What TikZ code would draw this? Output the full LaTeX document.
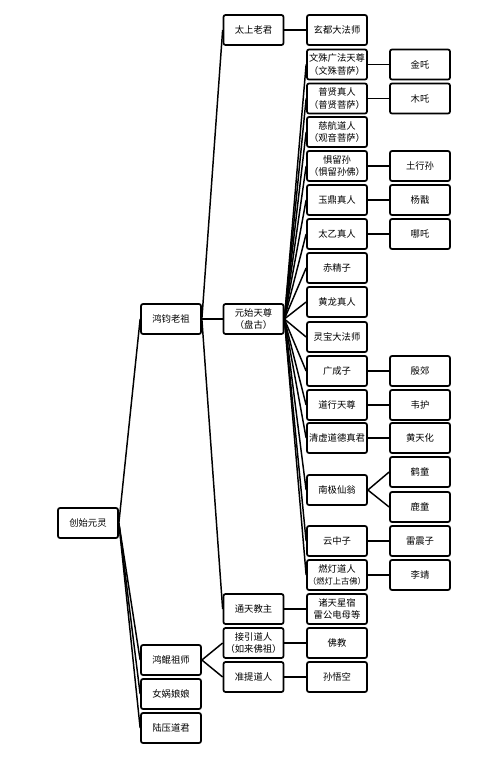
\documentclass[tikz,border=0pt]{standalone}
\usepackage{fontspec}
\usepackage{tikz}
\newfontfamily\cjk{Noto Sans CJK SC}

\begin{document}
\begin{tikzpicture}[x=0.75pt,y=0.75pt,yscale=-1,xscale=1,
	box/.style={draw,line width=1.3pt,rounded corners=1.5pt,fill=white,
		minimum width=45pt,minimum height=22.5pt,inner sep=0pt,align=center,
		font=\cjk\fontsize{7}{9.5}\selectfont},
	link/.style={line width=1.1pt}]
	%set diagram size 500 x 769
	\useasboundingbox (0,0) rectangle (500,769);
	
	% Level 1
	\node [box] (chuangshi) at (88,523) {创始元灵};
	
	% Level 2
	\node [box] (hongjun) at (171,319) {鸿钧老祖};
	\node [box] (hongkun) at (171,660) {鸿鲲祖师};
	\node [box] (nuwa) at (171,694) {女娲娘娘};
	\node [box] (luya) at (171,728) {陆压道君};
	
	% Level 3
	\node [box] (taishang) at (253.5,30) {太上老君};
	\node [box] (yuanshi) at (253.5,319) {元始天尊\\（盘古）};
	\node [box] (tongtian) at (253.5,609) {通天教主};
	\node [box] (jieyin) at (253.5,643) {接引道人\\（如来佛祖）};
	\node [box] (zhunti) at (253.5,677) {准提道人};
	
	% Level 4
	\node [box] (xuandu) at (337,30) {玄都大法师};
	\node [box] (wenshu) at (337,64.5) {文殊广法天尊\\（文殊菩萨）};
	\node [box] (puxian) at (337,98.5) {普贤真人\\（普贤菩萨）};
	\node [box] (cihang) at (337,132) {慈航道人\\（观音菩萨）};
	\node [box] (julusun) at (337,166) {惧留孙\\（惧留孙佛）};
	\node [box] (yuding) at (337,200) {玉鼎真人};
	\node [box] (taiyi) at (337,234) {太乙真人};
	\node [box] (chijing) at (337,268) {赤精子};
	\node [box] (huanglong) at (337,302) {黄龙真人};
	\node [box] (lingbao) at (337,337) {灵宝大法师};
	\node [box] (guangcheng) at (337,371) {广成子};
	\node [box] (daoxing) at (337,405) {道行天尊};
	\node [box] (qingxu) at (337,438) {清虚道德真君};
	\node [box] (nanji) at (337,490) {南极仙翁};
	\node [box] (yunzhong) at (337,541) {云中子};
	\node [box] (randeng) at (337,575) {燃灯道人\\{\fontsize{6.2}{9.5}\selectfont（燃灯上古佛）}};
	\node [box] (zhutian) at (337,609) {诸天星宿\\雷公电母等};
	\node [box] (fojiao) at (337,643) {佛教};
	\node [box] (wukong) at (337,677) {孙悟空};
	
	% Level 5
	\node [box] (jinzha) at (420,64.5) {金吒};
	\node [box] (muzha) at (420,98.5) {木吒};
	\node [box] (tuxing) at (420,166) {土行孙};
	\node [box] (yangjian) at (420,200) {杨戬};
	\node [box] (nezha) at (420,234) {哪吒};
	\node [box] (yinjiao) at (420,371) {殷郊};
	\node [box] (weihu) at (420,405) {韦护};
	\node [box] (tianhua) at (420,438) {黄天化};
	\node [box] (hetong) at (420,472) {鹤童};
	\node [box] (lutong) at (420,507) {鹿童};
	\node [box] (leizhen) at (420,541) {雷震子};
	\node [box] (lijing) at (420,575) {李靖};
	
	% Connectors
	\foreach \a/\b in {chuangshi/hongjun,chuangshi/hongkun,chuangshi/nuwa,chuangshi/luya,
		hongjun/taishang,hongjun/yuanshi,hongjun/tongtian,
		hongkun/jieyin,hongkun/zhunti,
		taishang/xuandu,tongtian/zhutian,jieyin/fojiao,zhunti/wukong,
		yuanshi/wenshu,yuanshi/puxian,yuanshi/cihang,yuanshi/julusun,yuanshi/yuding,
		yuanshi/taiyi,yuanshi/chijing,yuanshi/huanglong,yuanshi/lingbao,yuanshi/guangcheng,
		yuanshi/daoxing,yuanshi/qingxu,yuanshi/nanji,yuanshi/yunzhong,yuanshi/randeng,
		wenshu/jinzha,puxian/muzha,julusun/tuxing,yuding/yangjian,taiyi/nezha,
		guangcheng/yinjiao,daoxing/weihu,qingxu/tianhua,nanji/hetong,nanji/lutong,
		yunzhong/leizhen,randeng/lijing}
		\draw [link] (\a.east) -- (\b.west);
	
\end{tikzpicture}
\end{document}
